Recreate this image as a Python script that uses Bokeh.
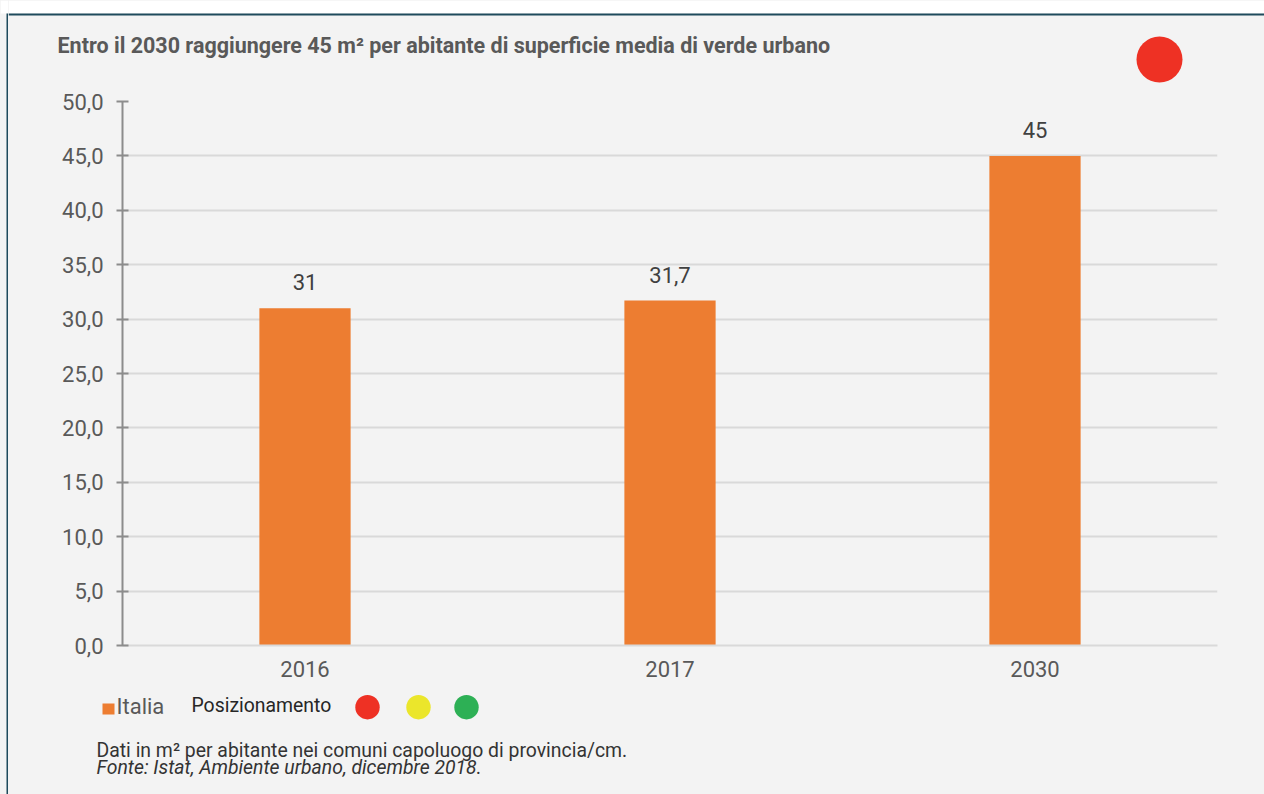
from bokeh.plotting import figure
from bokeh.layouts import row, column
from bokeh.models import (ColumnDataSource, Range1d, FactorRange, LabelSet,
                          FixedTicker, CustomJSTickFormatter)
from bokeh.core.properties import value
from bokeh.embed import file_html
from bokeh.resources import INLINE

# ---- data ----
years = ["2016", "2017", "2030"]
values = [31.0, 31.7, 45.0]
value_labels = ["31", "31,7", "45"]
y_ticks = [0, 5, 10, 15, 20, 25, 30, 35, 40, 45, 50]
title_text = "Entro il 2030 raggiungere 45 m\u00b2 per abitante di superficie media di verde urbano"
series_name = "Italia"
status_label = "Posizionamento"
status_colors = ["#ee3124", "#ebe62b", "#2db055"]
current_status_color = "#ee3124"
note_text = "Dati in m\u00b2 per abitante nei comuni capoluogo di provincia/cm."
source_text = "Fonte: Istat, Ambiente urbano, dicembre 2018."

# ---- style / layout ----
BG = "#f3f3f3"
BORDER = "#1e4a5c"
BAR = "#ed7d31"
FONT = "Roboto"
PAGE_W, PAGE_H = 1264, 794
STRIP_W = 8
HEAD_H = 88
FOOT_TOP = 690


def deco_fig(x0, x1, y0, y1):
    """Figure whose frame fills the canvas; data coords equal page pixels."""
    f = figure(width=x1 - x0, height=y1 - y0, x_range=Range1d(x0, x1),
               y_range=Range1d(y1, y0), output_backend="svg", toolbar_location=None,
               x_axis_type=None, y_axis_type=None, min_border=0, title=None,
               frame_align=False)
    f.background_fill_color = BG
    f.border_fill_color = BG
    f.outline_line_color = None
    f.xgrid.visible = False
    f.ygrid.visible = False
    return f


def txt(f, x, y, s, size_px, color, style="normal"):
    # text glyph baseline sits ~0.38em low in the SVG output; compensate
    f.text(x=[x], y=[y - 0.38 * size_px], text=[s], text_font=value(FONT),
           text_font_size=f"{size_px}px", text_font_style=style, text_color=color,
           text_baseline="alphabetic", text_align="left")


# left strip with the page border
strip = deco_fig(0, STRIP_W, 0, PAGE_H)
strip.quad(left=[0], right=[STRIP_W], top=[0], bottom=[13], fill_color="#ffffff", line_color=None)
strip.quad(left=[6], right=[8], top=[13], bottom=[PAGE_H], fill_color=BORDER, line_color=None)

# header: white strip, top border, title, status dot
head = deco_fig(STRIP_W, PAGE_W, 0, HEAD_H)
head.quad(left=[STRIP_W], right=[PAGE_W], top=[0], bottom=[13], fill_color="#ffffff", line_color=None)
head.quad(left=[STRIP_W], right=[PAGE_W], top=[13], bottom=[15], fill_color=BORDER, line_color=None)
txt(head, 57, 53.3, title_text, 21.5, "#595959", "bold")
head.circle(x=[1159], y=[59], radius=23, fill_color=current_status_color, line_color=None)

# main chart
main = figure(x_range=FactorRange(*years), y_range=Range1d(0, 50),
              width=PAGE_W - STRIP_W, height=FOOT_TOP - HEAD_H,
              output_backend="svg", toolbar_location=None, title=None,
              min_border_left=114, min_border_right=47,
              min_border_top=13, min_border_bottom=45, frame_align=False)
main.background_fill_color = BG
main.border_fill_color = BG
main.outline_line_color = None

src = ColumnDataSource(dict(x=years, top=values, label=value_labels))
main.vbar(x="x", top="top", width=0.25, source=src, fill_color=BAR, line_color=None)
main.add_layout(LabelSet(x="x", y="top", text="label", source=src, text_align="center",
                         text_baseline="alphabetic", y_offset=18,
                         text_font=value(FONT), text_font_size="22px", text_color="#404040"))

yax = main.yaxis[0]
yax.ticker = FixedTicker(ticks=y_ticks)
yax.formatter = CustomJSTickFormatter(code="return tick.toFixed(1).replace('.', ',');")
yax.axis_line_color = "#8c8c8c"
yax.axis_line_width = 2
yax.major_tick_line_color = "#8c8c8c"
yax.major_tick_line_width = 2
yax.major_tick_in = 6
yax.major_tick_out = 6
yax.minor_tick_line_color = None
yax.major_label_standoff = 13
yax.major_label_text_font = FONT
yax.major_label_text_font_size = "22px"
yax.major_label_text_color = "#595959"

xax = main.xaxis[0]
xax.axis_line_color = "#d9d9d9"
xax.axis_line_width = 2
xax.major_tick_line_color = None
xax.major_tick_in = 0
xax.major_tick_out = 0
xax.minor_tick_line_color = None
xax.major_label_standoff = 15
xax.major_label_text_font = FONT
xax.major_label_text_font_size = "22px"
xax.major_label_text_color = "#595959"

main.xgrid.grid_line_color = None
main.ygrid.grid_line_color = "#d9d9d9"
main.ygrid.grid_line_width = 2
main.ygrid.ticker = FixedTicker(ticks=y_ticks)

# footer: legend and notes
foot = deco_fig(STRIP_W, PAGE_W, FOOT_TOP, PAGE_H)
foot.quad(left=[102], right=[114], top=[703], bottom=[714], fill_color=BAR, line_color=None)
txt(foot, 116, 714, series_name, 22, "#595959")
txt(foot, 191, 712, status_label, 19.4, "#262626")
foot.circle(x=[367, 418, 466], y=[706.7] * 3, radius=12.2,
            fill_color=status_colors, line_color=None)
txt(foot, 96, 757, note_text, 19.4, "#333333")
txt(foot, 96, 774, source_text, 19.4, "#333333", "italic")

col = column(head, main, foot, styles={"background-color": BG})
layout = row(strip, col, styles={"background-color": BG})
open("out.html", "w").write(file_html(layout, INLINE))
